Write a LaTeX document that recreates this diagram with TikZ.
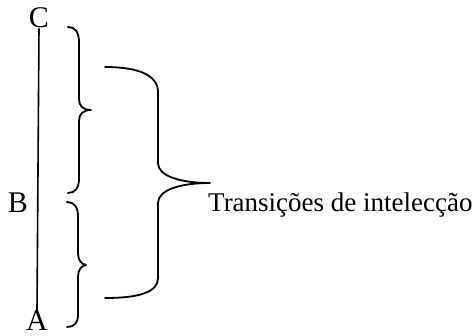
\documentclass[tikz,border=0pt]{standalone}
\usepackage{fontspec}
\setmainfont{Liberation Serif}
\begin{document}
\begin{tikzpicture}[x=1pt,y=-1pt,
  letter/.style={inner sep=0pt,font=\fontsize{30}{33}\selectfont},
  label/.style={inner sep=0pt,anchor=base west,font=\fontsize{27}{30}\selectfont},
  brace/.style={line width=1.8pt,line cap=round,line join=round},
  axis/.style={line width=1.6pt}]
\useasboundingbox (0,0) rectangle (472,336);

% points of the scale
\node[letter] (C) at (39,18) {C};
\node[letter] (B) at (18,203) {B};
\node[letter] (A) at (37,321) {A};
\draw[axis] (C.south) -- (A.north);

% upper small brace
\draw[brace] (68,27) .. controls (75,27) and (79,32) .. (79,42) -- (79,99)
  .. controls (79,106) and (83,110) .. (91,110)
  .. controls (83,110) and (79,114) .. (79,121) -- (79,179)
  .. controls (79,188) and (75,193) .. (68,193);

% lower small brace
\draw[brace] (67,202) .. controls (74,202) and (78,207) .. (78,216) -- (78,253)
  .. controls (78,260) and (81,264) .. (86,265)
  .. controls (81,266) and (78,270) .. (78,277) -- (78,315)
  .. controls (78,323) and (74,327) .. (67,327);

% large brace
\draw[brace] (105,67) .. controls (140,67) and (158,76) .. (158,92) -- (158,163)
  .. controls (158,176) and (180,183) .. (210,183)
  .. controls (180,183) and (158,190) .. (158,203) -- (158,278)
  .. controls (158,292) and (140,298) .. (105,298);

\node[label] (T) at (208,212) {Transições de intelecção};
\end{tikzpicture}
\end{document}
